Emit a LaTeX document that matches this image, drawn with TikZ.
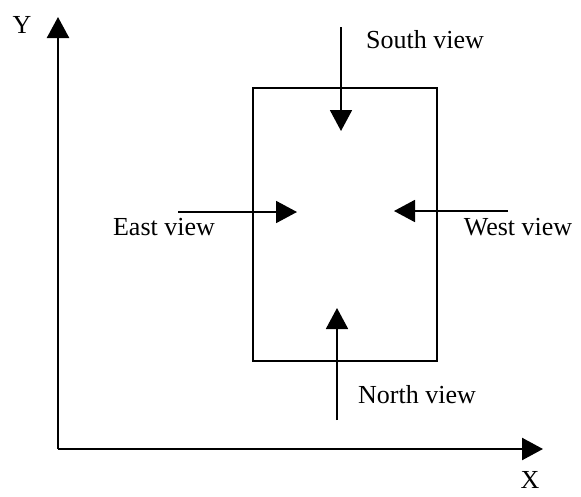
\documentclass[tikz,border=0pt]{standalone}
\usepackage{fontspec}
\setmainfont{Liberation Serif}
\usetikzlibrary{arrows.meta}
\begin{document}
\begin{tikzpicture}[x=1pt,y=-1pt,
  label text/.style={inner sep=0pt, anchor=base, font=\fontsize{26}{30}\selectfont},
  axis line/.style={line width=2.4pt, -{Triangle[length=21pt,width=22pt]}},
  view arrow/.style={line width=1.9pt, -{Triangle[length=21pt,width=22pt]}}]
  \useasboundingbox (0,0) rectangle (581,496);

  % axes
  \coordinate (origin) at (58,449);
  \coordinate (ytip) at (58,17);
  \coordinate (xtip) at (543,449);
  \draw[axis line] (origin) -- (ytip);
  \draw[axis line] (origin) -- (xtip);
  \node[label text] (ylab) at (22,33) {Y};
  \node[label text] (xlab) at (530,488) {X};

  % the plan rectangle
  \draw[line width=2pt] (253,88) rectangle (437,361);

  % viewing directions
  \coordinate (s0) at (341,27);  \coordinate (s1) at (341,131);
  \coordinate (e0) at (178,212); \coordinate (e1) at (297,212);
  \coordinate (w0) at (508,211); \coordinate (w1) at (394,211);
  \coordinate (n0) at (337,420); \coordinate (n1) at (337,308);
  \draw[view arrow] (s0) -- (s1);
  \draw[view arrow] (e0) -- (e1);
  \draw[view arrow] (w0) -- (w1);
  \draw[view arrow] (n0) -- (n1);

  \node[label text] (slab) at (425,48) {South view};
  \node[label text] (elab) at (164,235) {East view};
  \node[label text] (wlab) at (518,235) {West view};
  \node[label text] (nlab) at (417,403) {North view};
\end{tikzpicture}
\end{document}
